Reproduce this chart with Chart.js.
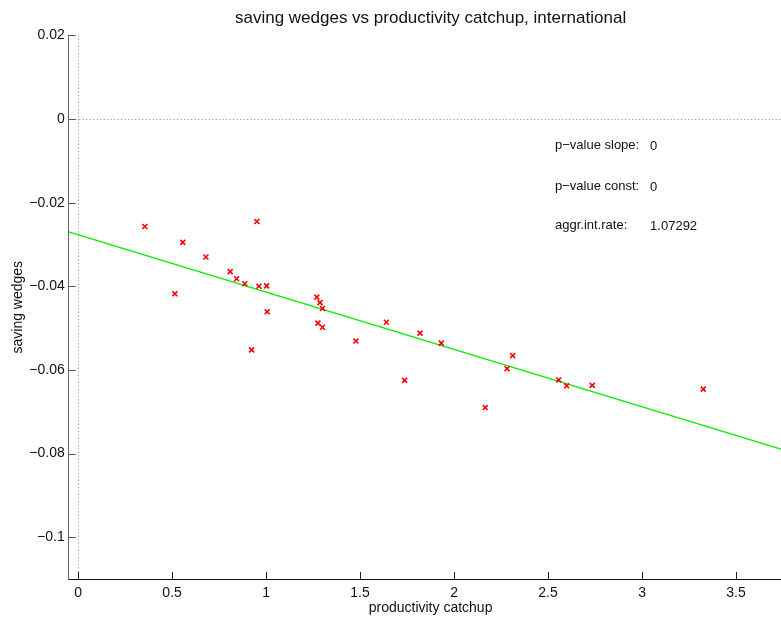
<!DOCTYPE html>
<html>
<head>
<meta charset="utf-8">
<script src="https://cdn.jsdelivr.net/npm/chart.js@4/dist/chart.umd.min.js"></script>
<style>
  html, body { margin: 0; padding: 0; background: #fff; overflow: hidden; }
  #wrap { width: 798px; height: 617px; }
</style>
</head>
<body>
<div id="wrap"><canvas id="c" width="798" height="617"></canvas></div>
<script>
// Productivity catch-up (x) against saving wedges (y), one point per country
const catchup = [0.355, 0.515, 0.557, 0.680, 0.809, 0.843, 0.887, 0.923, 0.951, 0.962,
                 1.003, 1.006, 1.270, 1.287, 1.300, 1.276, 1.300, 1.478, 1.640, 1.737,
                 1.819, 1.932, 2.166, 2.282, 2.312, 2.557, 2.599, 2.735, 3.326];
const wedges = [-0.0257, -0.0418, -0.0295, -0.0330, -0.0365, -0.0382, -0.0394, -0.0552, -0.0245, -0.0400,
                -0.0399, -0.0461, -0.0426, -0.0439, -0.0453, -0.0488, -0.0498, -0.0531, -0.0486, -0.0625,
                -0.0512, -0.0536, -0.0690, -0.0597, -0.0566, -0.0624, -0.0638, -0.0637, -0.0646];

// Regression line end points
const fitX = [-0.05, 3.8];
const fitY = [-0.0270, -0.0798];

// Axis ticks
const xTicks = [0, 0.5, 1, 1.5, 2, 2.5, 3, 3.5];
const xTickLabels = ['0', '0.5', '1', '1.5', '2', '2.5', '3', '3.5'];
const yTicks = [0.02, 0, -0.02, -0.04, -0.06, -0.08, -0.1];
const yTickLabels = ['0.02', '0', '\u22120.02', '\u22120.04', '\u22120.06', '\u22120.08', '\u22120.1'];

// Regression statistics
const statNames = ['p\u2212value slope:', 'p\u2212value const:', 'aggr.int.rate:'];
const statValues = ['0', '0', '1.07292'];

const FONT = '"Liberation Sans", Arial, Helvetica, sans-serif';

// Dotted zero lines, inward tick marks and the statistics text
const decorations = {
  id: 'decorations',
  beforeDatasetsDraw(chart) {
    const { ctx, chartArea: a, scales: { x, y } } = chart;
    ctx.save();
    ctx.strokeStyle = '#8a8a8a';
    ctx.lineWidth = 1;
    ctx.setLineDash([1, 2.5]);
    const x0 = Math.round(x.getPixelForValue(0)) + 0.5;
    const y0 = Math.round(y.getPixelForValue(0)) + 0.5;
    ctx.beginPath();
    ctx.moveTo(x0, a.top); ctx.lineTo(x0, a.bottom);
    ctx.moveTo(a.left, y0); ctx.lineTo(a.right, y0);
    ctx.stroke();
    ctx.restore();
  },
  afterDraw(chart) {
    const { ctx, chartArea: a, scales: { x, y } } = chart;
    ctx.save();
    ctx.lineWidth = 1;
    ctx.strokeStyle = '#222';
    ctx.beginPath();
    xTicks.forEach(v => {
      const px = Math.round(x.getPixelForValue(v)) + 0.5;
      ctx.moveTo(px, a.bottom); ctx.lineTo(px, a.bottom - 7);
    });
    ctx.stroke();
    ctx.strokeStyle = '#555';
    ctx.beginPath();
    yTicks.forEach(v => {
      const py = Math.round(y.getPixelForValue(v)) + 0.5;
      ctx.moveTo(a.left, py); ctx.lineTo(a.left + 7, py);
    });
    ctx.stroke();

    ctx.fillStyle = '#111';
    ctx.font = '13px ' + FONT;
    ctx.textAlign = 'left';
    ctx.textBaseline = 'middle';
    const rows = [-0.0062, -0.0160, -0.0254];
    statNames.forEach((t, i) => {
      const py = y.getPixelForValue(rows[i]);
      ctx.fillText(t, x.getPixelForValue(2.537), py);
      ctx.fillText(statValues[i], x.getPixelForValue(3.043), py + 1);
    });
    ctx.restore();
  }
};

new Chart(document.getElementById('c'), {
  type: 'scatter',
  data: {
    datasets: [
      {
        data: catchup.map((v, i) => ({ x: v, y: wedges[i] })),
        pointStyle: 'crossRot',
        pointRadius: 3.5,
        pointBorderWidth: 1.6,
        borderColor: '#ff0000',
        backgroundColor: '#ff0000',
        showLine: false
      },
      {
        type: 'line',
        data: fitX.map((v, i) => ({ x: v, y: fitY[i] })),
        borderColor: '#00ee00',
        borderWidth: 1.3,
        pointRadius: 0,
        fill: false
      }
    ]
  },
  options: {
    responsive: false,
    animation: false,
    layout: { padding: 0 },
    plugins: {
      legend: { display: false },
      tooltip: { enabled: false },
      title: {
        display: true,
        fullSize: false,
        text: 'saving wedges vs productivity catchup, international',
        color: '#111',
        font: { family: FONT, size: 17, weight: 'normal' },
        padding: { top: 8, bottom: 7 }
      }
    },
    scales: {
      x: {
        type: 'linear',
        min: -0.05,
        max: 3.8,
        afterBuildTicks: s => { s.ticks = xTicks.map(v => ({ value: v })); },
        afterFit: s => { s.height = 38; s.paddingLeft = 0; s.paddingRight = 0; },
        ticks: {
          callback: (v, i) => xTickLabels[i],
          color: '#111',
          font: { family: FONT, size: 14 },
          padding: 6,
          maxRotation: 0,
          autoSkip: false
        },
        grid: { display: false, drawTicks: false },
        border: { display: true, color: '#111', width: 1 },
        title: {
          display: true,
          text: 'productivity catchup',
          color: '#111',
          font: { family: FONT, size: 14 },
          padding: { top: 0, bottom: 0 }
        }
      },
      y: {
        type: 'linear',
        min: -0.11,
        max: 0.02,
        afterBuildTicks: s => { s.ticks = yTicks.map(v => ({ value: v })); },
        afterFit: s => { s.width = 68.7; s.paddingTop = 0; s.paddingBottom = 0; },
        ticks: {
          callback: (v, i) => yTickLabels[i],
          color: '#111',
          font: { family: FONT, size: 14 },
          padding: 4,
          autoSkip: false
        },
        grid: { display: false, drawTicks: false },
        border: { display: true, color: '#666', width: 1 },
        title: {
          display: true,
          text: 'saving wedges',
          color: '#111',
          font: { family: FONT, size: 14 },
          padding: { top: 10, bottom: 0 }
        }
      }
    }
  },
  plugins: [decorations]
});
</script>
</body>
</html>
